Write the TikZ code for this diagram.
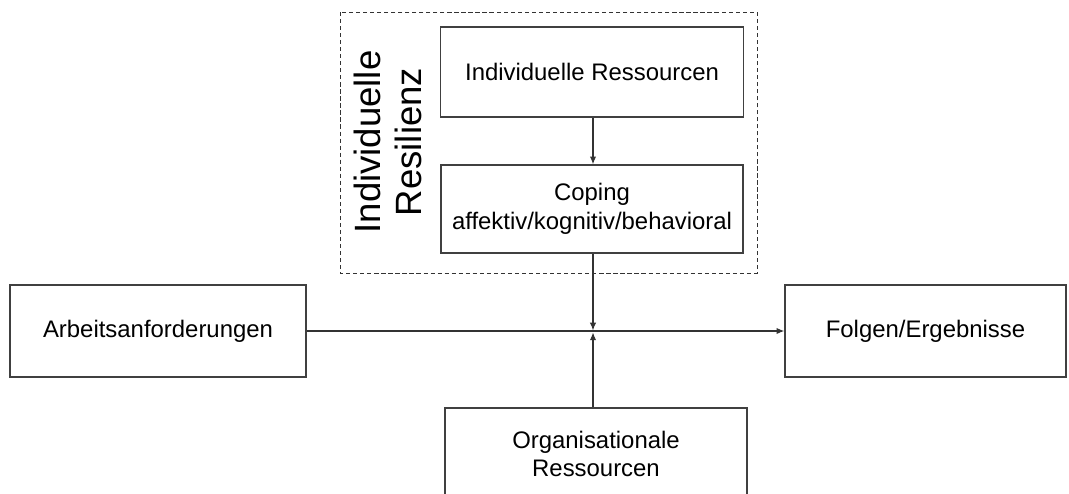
\documentclass[tikz,border=0pt]{standalone}
\usepackage{fontspec}
\setmainfont{Liberation Sans}
\usetikzlibrary{arrows.meta}

\begin{document}
\begin{tikzpicture}[x=0.025cm, y=-0.025cm,
  box/.style={draw=black!75, line width=1pt, align=center, inner sep=0pt,
    font=\fontsize{17}{20.5}\selectfont},
  link/.style={draw=black!80, line width=0.8pt, -{Latex[length=5.5pt,width=4.5pt]}}]
  \def\px{0.025cm}
  \useasboundingbox (0,0) rectangle (1069,493);
  \clip (0,0) rectangle (1069,493);

  \draw[black!80, line width=0.7pt, dash pattern=on 3pt off 2pt] (340,12) rectangle (757,273);
  \node[rotate=90, align=center, font=\fontsize{26}{29}\selectfont] (resil) at (388,142) {Individuelle\\Resilienz};

  \node[box, minimum width=303*\px, minimum height=90*\px] (ires) at (592,72) {Individuelle Ressourcen};
  \node[box, minimum width=302*\px, minimum height=88*\px] (coping) at (592,209) {Coping\\affektiv/kognitiv/behavioral};
  \node[box, minimum width=296*\px, minimum height=92*\px] (arbeit) at (158,331) {Arbeitsanforderungen};
  \node[box, minimum width=281*\px, minimum height=92*\px] (folgen) at (925.5,331) {Folgen/Ergebnisse};
  \node[box, minimum width=302*\px, minimum height=92*\px] (orga) at (596,454) {Organisationale\\Ressourcen};

  \coordinate (jn) at (593,331);
  \draw[link] (ires.south -| jn) -- (coping.north -| jn);
  \draw[link] (arbeit) -- (folgen);
  \draw[link, shorten >=0.4pt] (coping.south -| jn) -- (jn);
  \draw[link, shorten >=1pt] (orga.north -| jn) -- (jn);
\end{tikzpicture}
\end{document}
